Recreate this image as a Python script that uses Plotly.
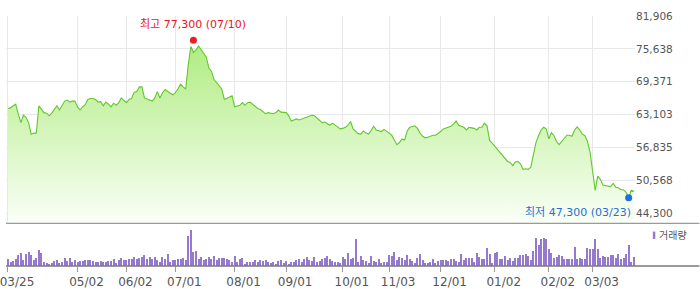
import pandas as pd
import plotly.graph_objects as go

# ---------------- data ----------------
holidays = ["2025-05-01", "2025-05-05", "2025-05-06", "2025-06-03", "2025-06-06",
            "2025-08-15", "2025-10-03", "2025-10-06", "2025-10-07", "2025-10-08",
            "2025-10-09", "2025-12-25", "2025-12-31", "2026-01-01", "2026-02-16",
            "2026-02-17", "2026-02-18", "2026-03-02"]
days = [d for d in pd.bdate_range("2025-03-25", "2026-03-25")
        if d.strftime("%Y-%m-%d") not in holidays]
dates = [d.strftime("%Y-%m-%d") for d in days]

close = [
    64300, 64400, 64800, 65100, 63200, 61600, 63000, 62600, 61600, 59400,
    59600, 59600, 64800, 64100, 63500, 63400, 62900, 63400, 64000, 64800,
    64000, 64900, 65700, 65900, 65500, 65700, 65700, 64600, 64000, 64600,
    65000, 66000, 66200, 66200, 66000, 65500, 65600, 64800, 65500, 65100,
    64600, 65300, 64900, 65400, 66300, 65800, 65400, 66000, 66200, 67400,
    67500, 68400, 68400, 66300, 66100, 65800, 65700, 66300, 67500, 66300,
    67300, 67900, 67500, 67200, 66900, 67300, 68000, 68900, 68400, 68000,
    72600, 76100, 75000, 75400, 76200, 75500, 74700, 74100, 72000, 71400,
    69800, 69200, 68700, 68000, 66000, 66200, 66500, 66700, 64600, 64800,
    64900, 65400, 64900, 65400, 65500, 65100, 64600, 64300, 64100, 63600,
    63300, 63500, 63400, 63300, 63500, 64000, 63600, 63600, 63500, 62900,
    61900, 62100, 62300, 62100, 62300, 62400, 62600, 62800, 63000, 62900,
    62500, 62000, 61600, 61700, 61400, 61100, 61500, 61100, 60700, 60400,
    60500, 60700, 61100, 61800, 60400, 60000, 59500, 59400, 60000, 59600,
    59400, 60100, 60900, 60200, 60000, 59900, 60300, 60000, 59600, 59200,
    58300, 57400, 57800, 58500, 58300, 60000, 60700, 60900, 61000, 60500,
    59600, 59000, 58700, 58800, 59000, 59200, 59200, 59500, 59900, 60400,
    60600, 60700, 60900, 61300, 61900, 61100, 60900, 60700, 60200, 60700,
    60600, 60500, 60200, 60700, 60700, 61500, 61000, 58200, 57700, 57100,
    56400, 56000, 55400, 54600, 54200, 54000, 53400, 54100, 54200, 53700,
    52700, 52800, 52700, 53100, 55600, 57800, 59100, 60200, 60700, 60400,
    58500, 59700, 59100, 58000, 57400, 58000, 58700, 59200, 59200, 59000,
    60200, 60800, 60200, 59400, 59100, 58000, 56000, 52800, 48700, 51400,
    50800, 49700, 49600, 49500, 49400, 50000, 49300, 49200, 48800, 48800,
    48300, 47300, 48700, 48500,
]

volume = [
    7, 4, 5, 7, 11, 13, 6, 12, 14, 11, 6, 8, 16, 13, 4, 3, 2, 3, 5, 6,
    3, 4, 8, 5, 8, 4, 6, 4, 5, 5, 6, 6, 6, 5, 4, 4, 5, 4, 4, 5,
    5, 7, 3, 6, 8, 6,
    6, 7, 7, 9, 7, 8, 9, 11, 7, 9, 7, 9, 6, 4, 9, 7, 12, 4, 6, 6,
    7, 7, 8, 6, 30, 36, 14, 15, 7, 9, 6, 7, 9, 7, 10, 6, 8, 8, 8, 7,
    6, 4, 10, 4, 7, 8,
    2, 4, 4, 4, 6, 4, 6, 5, 6, 4, 3, 4, 2, 5, 6, 3, 5, 2, 4, 4,
    6, 7, 4, 7, 9, 6, 5, 9, 4, 5, 7, 8, 10, 7, 5, 4, 4, 3, 9, 7,
    13, 7,
    8, 27, 4, 10, 6, 5, 3, 10, 5, 4, 7, 3, 4, 4, 11, 10, 14, 6, 9, 8,
    6, 11, 7, 5, 3, 8, 12, 6, 3, 3, 4, 7, 3, 5, 6, 6, 6, 5, 7, 7,
    5, 4, 12, 6, 8, 8, 8, 4, 13, 9, 7, 7, 18, 12, 3, 13, 14, 7, 7, 10,
    6, 8, 5, 8, 8, 11, 11, 12, 10, 6, 15, 28, 21, 27, 28, 27, 17, 13, 8, 9,
    11, 10, 7, 7, 7, 7, 19, 7, 8, 7, 7, 18, 17, 17, 27, 17, 8, 10, 9, 9,
    11, 11, 8, 12, 7, 8, 12, 21, 4, 9,
]

price_ticks = [44300, 50568, 56835, 63103, 69371, 75638, 81906]
price_range = [42410, 81906]
month_ticks = ["2025-03-25", "2025-05-02", "2025-06-02", "2025-07-01", "2025-08-01",
               "2025-09-01", "2025-10-01", "2025-11-03", "2025-12-01", "2026-01-02",
               "2026-02-02", "2026-03-03"]
month_labels = ["03/25", "05/02", "06/02", "07/01", "08/01", "09/01", "10/01",
                "11/03", "12/01", "01/02", "02/02", "03/03"]
high_date, high_value, high_label = "2025-07-10", 77300, "최고 77,300 (07/10)"
low_date, low_value, low_label = "2026-03-23", 47300, "최저 47,300 (03/23)"

# ---------------- figure ----------------
FONT = "DejaVu Sans, Noto Sans CJK KR, sans-serif"
W, H = 700, 289
ML, MR, MT, MB = 0, 65, 16, 21
plot_w = W - ML - MR
plot_h = H - MT - MB
split = 43 / plot_h  # volume panel height fraction

fig = go.Figure()

fig.add_trace(go.Scatter(
    x=dates, y=close, mode="lines", xaxis="x2", yaxis="y",
    line=dict(color="#62c72c", width=1.1),
    fill="tozeroy",
    fillgradient=dict(type="vertical",
                      colorscale=[[0, "#fbfff8"], [1, "#b0ec82"]],
                      start=price_range[0], stop=76500),
    hoverinfo="skip", showlegend=False,
))

fig.add_trace(go.Scatter(
    x=[high_date], y=[high_value], mode="markers", xaxis="x2", yaxis="y",
    marker=dict(color="#ee1c25", size=7), showlegend=False, hoverinfo="skip",
))
fig.add_trace(go.Scatter(
    x=[low_date], y=[low_value], mode="markers", xaxis="x2", yaxis="y",
    marker=dict(color="#1e6ee6", size=7), showlegend=False, hoverinfo="skip",
))

fig.add_trace(go.Bar(
    x=dates, y=volume, xaxis="x", yaxis="y2",
    marker=dict(color="#9579cf", line=dict(width=0)),
    width=0.4, showlegend=False, hoverinfo="skip",
))

fig.update_layout(
    width=W, height=H,
    margin=dict(l=ML, r=MR, t=MT, b=MB),
    paper_bgcolor="white", plot_bgcolor="white",
    font=dict(family=FONT, color="#555555", size=11),
    bargap=0,
    xaxis=dict(
        type="category", categoryorder="array", categoryarray=dates,
        range=[-0.77, 243.46], domain=[0, 1], anchor="y2",
        tickmode="array", tickvals=month_ticks, ticktext=month_labels,
        ticks="outside", ticklen=5, tickcolor="#999999", tickwidth=1,
        ticklabelshift=9,
        tickfont=dict(size=12, color="#555555", family=FONT),
        showgrid=False, showline=False, zeroline=False, fixedrange=True,
    ),
    xaxis2=dict(
        type="category", categoryorder="array", categoryarray=dates,
        range=[-0.77, 243.46], domain=[0, 1], anchor="y", matches="x",
        tickmode="array", tickvals=month_ticks,
        showticklabels=False, ticks="",
        showgrid=True, gridcolor="#e8e8e8", gridwidth=1,
        showline=False, zeroline=False,
    ),
    yaxis=dict(
        domain=[split, 1], anchor="x2", side="right",
        range=price_range,
        tickmode="array", tickvals=price_ticks,
        ticktext=[f"{v:,}" for v in price_ticks],
        ticks="", tickfont=dict(size=10.5, color="#555555", family=FONT),
        showgrid=True, gridcolor="#e8e8e8", gridwidth=1,
        showline=False, zeroline=False,
    ),
    yaxis2=dict(
        domain=[0, split], anchor="x", range=[0, 43],
        showticklabels=False, ticks="", showgrid=False,
        showline=False, zeroline=False,
    ),
    annotations=[
        dict(x=high_date, y=high_value, xref="x2", yref="y", text=high_label,
             showarrow=False, yshift=16, xanchor="center", yanchor="middle",
             font=dict(color="#e8141e", size=11, family=FONT)),
        dict(x=low_date, y=low_value, xref="x2", yref="y", text=low_label,
             showarrow=False, xshift=4, yshift=-15, xanchor="right", yanchor="middle",
             font=dict(color="#1f6fd6", size=11, family=FONT)),
        dict(x=657 / plot_w, y=(268 - 237) / plot_h, xref="paper", yref="paper",
             text="거래량", showarrow=False, xanchor="left", yanchor="middle",
             font=dict(color="#555555", size=10, family=FONT)),
    ],
    shapes=[
        dict(type="line", xref="paper", yref="paper", x0=0, x1=W / plot_w,
             y0=split, y1=split, line=dict(color="#9a9a9a", width=1.3)),
        dict(type="line", xref="paper", yref="paper", x0=0, x1=W / plot_w,
             y0=0, y1=0, line=dict(color="#7a7a7a", width=1.6)),
        dict(type="rect", xref="paper", yref="paper",
             x0=653 / plot_w, x1=655.5 / plot_w,
             y0=(268 - 240.7) / plot_h, y1=(268 - 233.3) / plot_h,
             fillcolor="#9579cf", line=dict(width=0)),
    ],
)

fig.write_html("out.html")
